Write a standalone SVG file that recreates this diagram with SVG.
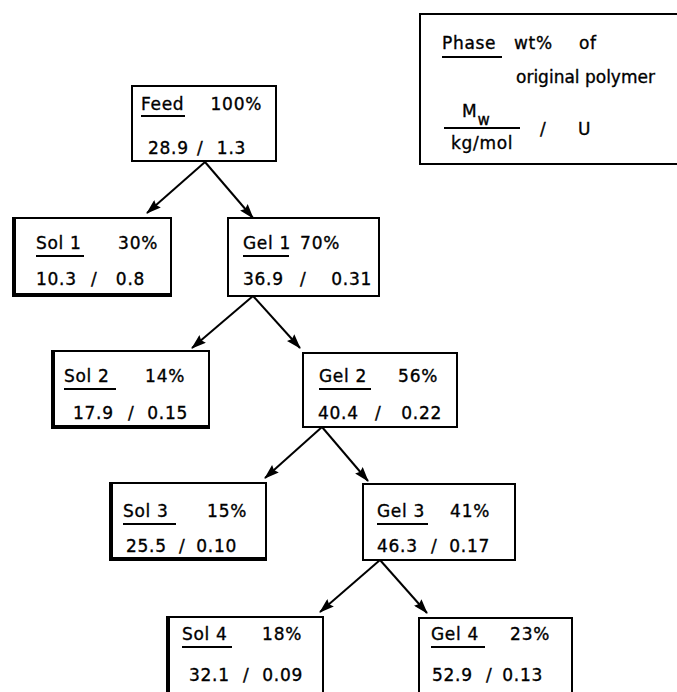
<svg xmlns="http://www.w3.org/2000/svg" width="677" height="692" viewBox="0 0 677 692">
<style>
.bx{fill:#fff;stroke:#000;stroke-width:2}
.sh{stroke:#000;stroke-width:4;fill:none}
text{font-family:"DejaVu Sans","Liberation Sans",sans-serif;font-size:17px;letter-spacing:0.7px;fill:#000;stroke:#000;stroke-width:0.35}
.e{text-anchor:end}
.ul{stroke:#000;stroke-width:1.8}
.cn{stroke:#000;stroke-width:2;fill:none;marker-end:url(#ah)}
</style>
<defs>
<marker id="ah" viewBox="0 0 15 10" refX="14" refY="5" markerWidth="15" markerHeight="10" markerUnits="userSpaceOnUse" orient="auto">
<path d="M0,0 L15,5 L0,10 L2,5 Z" fill="#000"/>
</marker>
</defs>
<rect width="677" height="692" fill="#fff"/>

<g id="legend">
<rect x="420" y="14" width="262" height="150" class="bx"/>
<text x="442" y="49">Phase</text>
<line x1="442" y1="57" x2="502" y2="57" class="ul"/>
<text x="514" y="49">wt%</text>
<text x="579" y="49">of</text>
<text x="516" y="83" style="letter-spacing:0">original polymer</text>
<text x="462" y="117">M<tspan dy="8" font-size="15">w</tspan></text>
<line x1="444" y1="128" x2="520" y2="128" class="ul"/>
<text x="451" y="149">kg/mol</text>
<text x="540" y="135">/</text>
<text x="578" y="135">U</text>
</g>

<g id="connectors">
<line x1="205" y1="162" x2="147" y2="213" class="cn"/>
<line x1="205" y1="162" x2="253" y2="218" class="cn"/>
<line x1="253" y1="296" x2="192" y2="348" class="cn"/>
<line x1="253" y1="296" x2="300" y2="348" class="cn"/>
<line x1="322" y1="427" x2="265" y2="478" class="cn"/>
<line x1="322" y1="427" x2="368" y2="481" class="cn"/>
<line x1="380" y1="560" x2="320" y2="612" class="cn"/>
<line x1="380" y1="560" x2="427" y2="613" class="cn"/>
</g>

<g id="feed">
<rect x="132" y="86" width="144" height="75" class="bx"/>
<text x="141" y="110">Feed</text>
<line x1="141" y1="116" x2="185" y2="116" class="ul"/>
<text x="262" y="110" class="e">100%</text>
<text x="148" y="154">28.9 <tspan x="197">/</tspan> <tspan x="246" class="e">1.3</tspan></text>
</g>

<g id="sol1">
<rect x="13" y="218" width="158" height="78" class="bx"/>
<path d="M14,218 V295 H171" class="sh"/>
<text x="36" y="249">Sol 1</text>
<line x1="36" y1="256" x2="84" y2="256" class="ul"/>
<text x="158" y="249" class="e">30%</text>
<text x="36" y="285">10.3 <tspan x="91">/</tspan> <tspan x="145" class="e">0.8</tspan></text>
</g>

<g id="gel1">
<rect x="228" y="218" width="151" height="78" class="bx"/>
<text x="243" y="249">Gel 1</text>
<line x1="243" y1="256" x2="289" y2="256" class="ul"/>
<text x="340" y="249" class="e">70%</text>
<text x="243" y="285">36.9 <tspan x="300">/</tspan> <tspan x="372" class="e">0.31</tspan></text>
</g>

<g id="sol2">
<rect x="52" y="351" width="157" height="77" class="bx"/>
<path d="M53,351 V427 H209" class="sh"/>
<text x="64" y="382">Sol 2</text>
<line x1="64" y1="389" x2="116" y2="389" class="ul"/>
<text x="185" y="382" class="e">14%</text>
<text x="73" y="419">17.9 <tspan x="128">/</tspan> <tspan x="188" class="e">0.15</tspan></text>
</g>

<g id="gel2">
<rect x="303" y="353" width="154" height="74" class="bx"/>
<text x="319" y="382">Gel 2</text>
<line x1="319" y1="389" x2="371" y2="389" class="ul"/>
<text x="438" y="382" class="e">56%</text>
<text x="318" y="419">40.4 <tspan x="375">/</tspan> <tspan x="442" class="e">0.22</tspan></text>
</g>

<g id="sol3">
<rect x="110" y="483" width="156" height="77" class="bx"/>
<path d="M111,483 V559 H266" class="sh"/>
<text x="123" y="517">Sol 3</text>
<line x1="123" y1="524" x2="176" y2="524" class="ul"/>
<text x="247" y="517" class="e">15%</text>
<text x="126" y="552">25.5 <tspan x="179">/</tspan> <tspan x="237" class="e">0.10</tspan></text>
</g>

<g id="gel3">
<rect x="363" y="484" width="152" height="76" class="bx"/>
<text x="377" y="517">Gel 3</text>
<line x1="377" y1="524" x2="428" y2="524" class="ul"/>
<text x="490" y="517" class="e">41%</text>
<text x="377" y="552">46.3 <tspan x="431">/</tspan> <tspan x="490" class="e">0.17</tspan></text>
</g>

<g id="sol4">
<rect x="167" y="617" width="156" height="85" class="bx"/>
<path d="M168,617 V700" class="sh"/>
<text x="182" y="640">Sol 4</text>
<line x1="182" y1="647" x2="232" y2="647" class="ul"/>
<text x="302" y="640" class="e">18%</text>
<text x="189" y="681">32.1 <tspan x="243">/</tspan> <tspan x="303" class="e">0.09</tspan></text>
</g>

<g id="gel4">
<rect x="419" y="618" width="153" height="84" class="bx"/>
<text x="431" y="640">Gel 4</text>
<line x1="431" y1="647" x2="485" y2="647" class="ul"/>
<text x="550" y="640" class="e">23%</text>
<text x="432" y="681">52.9 <tspan x="486">/</tspan> <tspan x="543" class="e">0.13</tspan></text>
</g>
</svg>
